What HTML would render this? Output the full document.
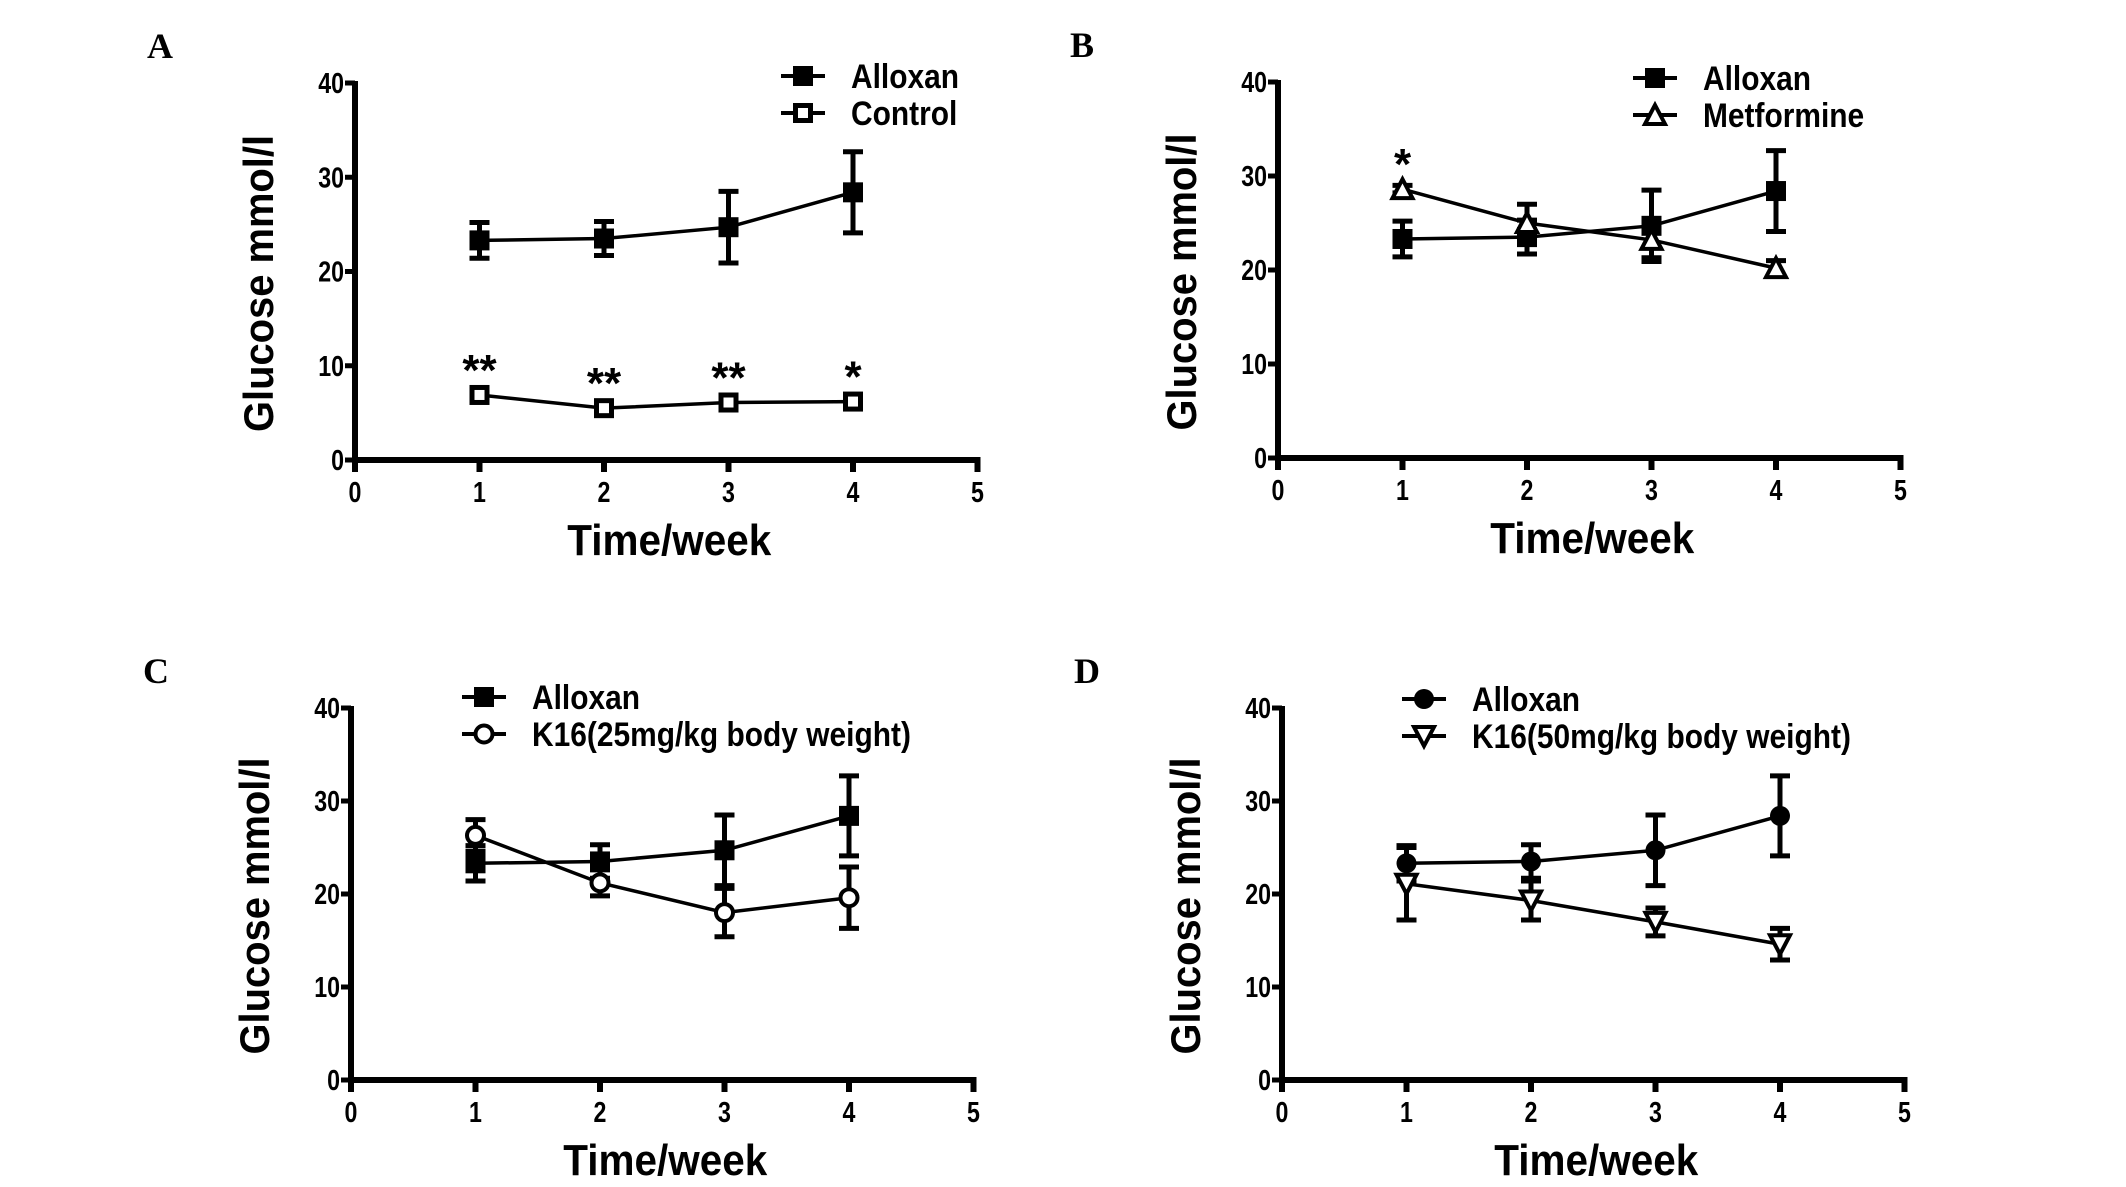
<!DOCTYPE html>
<html><head><meta charset="utf-8"><style>
html,body{margin:0;padding:0;background:#fff;}
svg{display:block;}
text{font-family:"Liberation Sans",Arial,sans-serif;font-weight:bold;fill:#000;}
.pl{font-family:"Liberation Serif",serif;font-size:36px;}
</style></head><body>
<svg id="fig" width="2126" height="1187" viewBox="0 0 2126 1187" xmlns="http://www.w3.org/2000/svg"></svg>
<script>
const weeks = [1, 2, 3, 4];
const xTicks = [0, 1, 2, 3, 4, 5];
const yTicks = [0, 10, 20, 30, 40];
const alloxanMean = [23.3, 23.5, 24.7, 28.4];
const alloxanErr = [1.9, 1.8, 3.8, 4.3];
const controlMean = [6.9, 5.5, 6.1, 6.2];
const controlErr = [0.7, 0.5, 0.5, 0.5];
const controlStars = ["**", "**", "**", "*"];
const metMean = [28.6, 25.0, 23.2, 20.2];
const metErr = [0.4, 2.0, 1.9, 0.8];
const metStars = ["*", "", "", ""];
const k25Mean = [26.3, 21.2, 18.0, 19.6];
const k25Err = [1.7, 1.4, 2.6, 3.3];
const k50Mean = [21.1, 19.3, 17.0, 14.6];
const k50Err = [3.9, 2.1, 1.5, 1.7];

const NS = "http://www.w3.org/2000/svg";
const svg = document.getElementById('fig');
function mk(tag, attrs, parent){
  const e = document.createElementNS(NS, tag);
  for (const k in attrs) e.setAttribute(k, attrs[k]);
  (parent||svg).appendChild(e);
  return e;
}
function ctext(parent, x, y, size, sx, anchor, str){
  const t = mk('text',{x:0,y:0,'font-size':size,'text-anchor':anchor,transform:`translate(${x},${y}) scale(${sx},1)`},parent);
  t.textContent = str;
  return t;
}
function marker(g, shape, cx, cy){
  const s = 10;
  let e;
  if (shape==='sqf'){ e = mk('rect',{x:cx-s,y:cy-s,width:2*s,height:2*s,fill:'#000'},g); }
  else if (shape==='sqo'){ e = mk('rect',{x:cx-s+2.5,y:cy-s+2.5,width:2*s-5,height:2*s-5,fill:'#fff',stroke:'#000','stroke-width':5},g); }
  else if (shape==='circf'){ e = mk('circle',{cx:cx,cy:cy,r:s,fill:'#000'},g); }
  else if (shape==='circo'){ e = mk('circle',{cx:cx,cy:cy,r:s-1.5,fill:'#fff',stroke:'#000','stroke-width':4},g); }
  else if (shape==='tri'){ e = mk('polygon',{points:`${cx},${cy-s} ${cx+s},${cy+s-1} ${cx-s},${cy+s-1}`,fill:'#fff',stroke:'#000','stroke-width':4},g); }
  else if (shape==='itri'){ e = mk('polygon',{points:`${cx},${cy+s} ${cx+s},${cy-s+1} ${cx-s},${cy-s+1}`,fill:'#fff',stroke:'#000','stroke-width':4},g); }
  
  
}
function panel(p){
  const g = mk('g',{});
  
  
  const unit = 124.5;
  const X = v => p.x0 + v*unit;
  const Y = v => p.y0 - v*(p.y0-p.y40)/40;
  const lt = mk('text',{x:p.x0-208,y:p.y40-25,class:'pl'},g); lt.textContent = p.letter;
  
  
  const ya = mk('line',{x1:p.x0,y1:Y(40)-2,x2:p.x0,y2:p.y0+3,stroke:'#000','stroke-width':6},g);
  
  
  const xa = mk('line',{x1:p.x0-3,y1:p.y0,x2:X(5)+3,y2:p.y0,stroke:'#000','stroke-width':6},g);
  
  
  yTicks.forEach(t=>{
    mk('line',{x1:p.x0-10,y1:Y(t),x2:p.x0,y2:Y(t),stroke:'#000','stroke-width':5},g);
    const tx = ctext(g, p.x0-11, Y(t)+10, 29, 0.8, 'end', t);
    
    
  });
  xTicks.forEach(t=>{
    mk('line',{x1:X(t),y1:p.y0,x2:X(t),y2:p.y0+12,stroke:'#000','stroke-width':6},g);
    const tx = ctext(g, X(t), p.y0+42, 29, 0.8, 'middle', t);
    
    
  });
  const yt = mk('text',{x:0,y:0,'font-size':42,'text-anchor':'middle',transform:`translate(${p.x0-82},${(Y(0)+Y(40))/2+12}) rotate(-90) scale(0.95,1)`},g);
  yt.textContent = 'Glucose mmol/l';
  
  
  const xt = ctext(g, X(2.5)+3, p.y0+95, 44, 0.92, 'middle', 'Time/week');
  
  
  p.series.forEach((s,si)=>{
    const sg = mk('g',{},g);
    
    
    const pts = weeks.map((w,i)=>X(w)+','+Y(s.mean[i])).join(' ');
    mk('polyline',{points:pts,fill:'none',stroke:'#000','stroke-width':3.5},sg);
    weeks.forEach((w,i)=>{
      const x = X(w), hi = Y(s.mean[i]+s.err[i]), lo = Y(s.mean[i]-s.err[i]);
      const eb = mk('path',{d:`M${x},${hi}V${lo}M${x-10},${hi}H${x+10}M${x-10},${lo}H${x+10}`,stroke:'#000','stroke-width':5,fill:'none'},sg);
      
      
      marker(sg, s.shape, x, Y(s.mean[i]));
      if (s.stars && s.stars[i]){
        const st = mk('text',{x:x,y:Y(s.mean[i])-10,'font-size':44,'text-anchor':'middle','font-weight':'normal'},sg);
        st.textContent = s.stars[i];
        
        
      }
    });
    const ly = p.legY + si*37;
    const lg = mk('g',{},g);
    
    
    mk('line',{x1:p.legX,y1:ly,x2:p.legX+44,y2:ly,stroke:'#000','stroke-width':4},lg);
    marker(lg, s.shape, p.legX+22, ly);
    ctext(lg, p.legX+70, ly+12, 34, 0.88, 'start', s.name);
  });
}
panel({letter:'A',x0:355,y0:460,y40:83,legX:781,legY:76,series:[
  {name:'Alloxan',mean:alloxanMean,err:alloxanErr,shape:'sqf'},
  {name:'Control',mean:controlMean,err:controlErr,shape:'sqo',stars:controlStars}]});
panel({letter:'B',x0:1278,y0:458,y40:82,legX:1633,legY:78,series:[
  {name:'Alloxan',mean:alloxanMean,err:alloxanErr,shape:'sqf'},
  {name:'Metformine',mean:metMean,err:metErr,shape:'tri',stars:metStars}]});
panel({letter:'C',x0:351,y0:1080,y40:708,legX:462,legY:697,series:[
  {name:'Alloxan',mean:alloxanMean,err:alloxanErr,shape:'sqf'},
  {name:'K16(25mg/kg body weight)',mean:k25Mean,err:k25Err,shape:'circo'}]});
panel({letter:'D',x0:1282,y0:1080,y40:708,legX:1402,legY:699,series:[
  {name:'Alloxan',mean:alloxanMean,err:alloxanErr,shape:'circf'},
  {name:'K16(50mg/kg body weight)',mean:k50Mean,err:k50Err,shape:'itri'}]});
</script>
</body></html>
